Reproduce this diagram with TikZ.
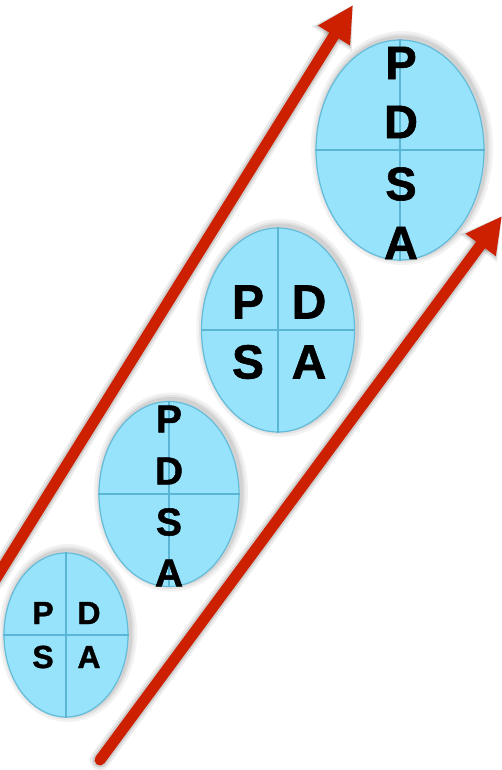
\documentclass[tikz,border=0pt]{standalone}
\usepackage{fontspec}
\setmainfont{Liberation Sans}[BoldFeatures={FakeBold=1.3}]
\usetikzlibrary{
  shapes.geometric,
  arrows.meta,
  shadows
}
\definecolor{cyclefill}{RGB}{152,227,252}
\definecolor{cycleedge}{RGB}{98,188,218}
\definecolor{cyclecross}{RGB}{90,182,212}
\definecolor{trendred}{RGB}{205,32,0}
\tikzset{
  halo/.style={draw=black, draw opacity=#1,
    transform canvas={shift={(2pt,2pt)}}},
  cycle/.style={ellipse, draw=cycleedge, line width=1.2pt, fill=cyclefill,
    inner sep=0pt,
    preaction={halo=.05, line width=14pt},
    preaction={halo=.06, line width=9pt},
    preaction={halo=.08, line width=5pt}},
  cross/.style={draw=cyclecross, line width=2.2pt},
  letter/.style={font=\fontsize{#1}{#1}\selectfont\bfseries, inner sep=0pt},
  trend/.style={draw=trendred, line width=11pt, line cap=round,
    -{Triangle[length=36pt, width=35pt]}},
  trend shadow/.style={draw=black, opacity=#1, line cap=round,
    xshift=-2pt, yshift=-1pt}
}

\begin{document}
\begin{tikzpicture}[x=1pt, y=-1pt]
    \useasboundingbox (0,0) rectangle (502,770);
    % the two trend arrows
    \coordinate (up0) at (-5,580);
    \coordinate (up1) at (353,5);
    \coordinate (lo0) at (100,760);
    \coordinate (lo1) at (502,216);
    \foreach \a/\b in {up0/up1, lo0/lo1} {
      \draw[trend shadow=.08, line width=20pt,
        -{Triangle[length=40pt, width=44pt]}] (\a) -- (\b);
      \draw[trend shadow=.12, line width=15pt,
        -{Triangle[length=38pt, width=39pt]}] (\a) -- (\b);
    }
    \draw[trend] (up0) -- (up1);
    \draw[trend] (lo0) -- (lo1);
    % cycles
    \node[cycle, minimum width=124pt, minimum height=164pt] (e1) at (66,635) {};
    \node[cycle, minimum width=140pt, minimum height=185pt] (e2) at (169,494) {};
    \node[cycle, minimum width=153pt, minimum height=204pt] (e3) at (278,330) {};
    \node[cycle, minimum width=168pt, minimum height=220pt] (e4) at (400,150) {};
    \foreach \e in {e1,e2,e3,e4} {
      \draw[cross] (\e.north) -- (\e.south);
      \draw[cross] (\e.west) -- (\e.east);
    }
    % first cycle
    \node[letter=32] (p1) at (43,613) {P};
    \node[letter=32] (d1) at (89,613) {D};
    \node[letter=32] (s1) at (43,657) {S};
    \node[letter=32] (a1) at (89,657) {A};
    % second cycle
    \node[letter=39] (p2) at (169,419) {P};
    \node[letter=39] (d2) at (169,471) {D};
    \node[letter=39] (s2) at (169,522) {S};
    \node[letter=39] (a2) at (169,573) {A};
    % third cycle
    \node[letter=48] (p3) at (248,302) {P};
    \node[letter=48] (d3) at (309,302) {D};
    \node[letter=48] (s3) at (248,362) {S};
    \node[letter=48] (a3) at (309,362) {A};
    % fourth cycle
    \node[letter=47] (p4) at (401,63) {P};
    \node[letter=47] (d4) at (401,122) {D};
    \node[letter=47] (s4) at (401,184) {S};
    \node[letter=47] (a4) at (401,243) {A};
\end{tikzpicture}
\end{document}
